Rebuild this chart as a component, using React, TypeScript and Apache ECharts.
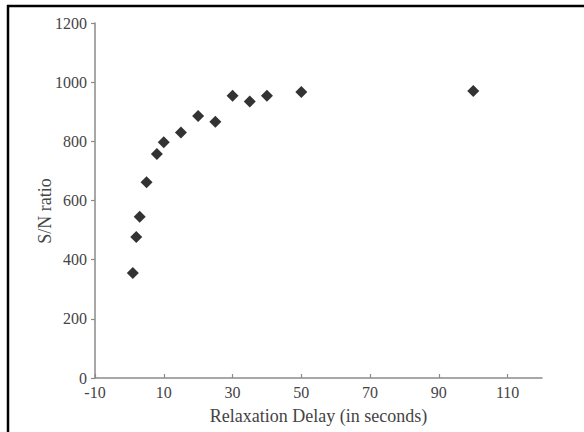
import React, { useEffect, useRef } from "react";
import * as echarts from "echarts";

const delays = [1, 2, 3, 5, 8, 10, 15, 20, 25, 30, 35, 40, 50, 100];
const snRatio = [355, 477, 545, 662, 757, 797, 830, 886, 866, 954, 935, 954, 967, 970];
const xTicks = [-10, 10, 30, 50, 70, 90, 110];
const xTitle = "Relaxation Delay (in seconds)";
const yTitle = "S/N ratio";

const FONT = "'Liberation Serif', 'Times New Roman', serif";

export default function App() {
  const ref = useRef<HTMLDivElement>(null);
  useEffect(() => {
    if (!ref.current) return;
    const chart = echarts.init(ref.current, null, { renderer: "svg" });
    chart.setOption({
      animation: false,
      backgroundColor: "#ffffff",
      grid: { left: 95, right: 42, top: 23, bottom: 54, containLabel: false },
      xAxis: {
        type: "value",
        min: -10,
        max: 120,
        interval: 20,
        name: xTitle,
        nameLocation: "middle",
        nameGap: 29,
        nameTextStyle: { fontFamily: FONT, fontSize: 18, color: "#444" },
        axisLine: { show: true, onZero: false, lineStyle: { color: "#8a8a8a", width: 1.5 } },
        axisTick: { show: true, inside: true, length: 4, customValues: xTicks, lineStyle: { color: "#8a8a8a", width: 1.2 } },
        axisLabel: { customValues: xTicks, fontFamily: FONT, fontSize: 16, color: "#444", margin: 6 },
        splitLine: { show: false },
      },
      yAxis: {
        type: "value",
        min: 0,
        max: 1200,
        interval: 200,
        axisLine: { show: true, onZero: false, lineStyle: { color: "#8a8a8a", width: 1.5 } },
        axisTick: { show: true, inside: false, length: 4, lineStyle: { color: "#8a8a8a", width: 1.2 } },
        axisLabel: {
          fontFamily: FONT,
          fontSize: 16,
          color: "#444",
          margin: 8,
          formatter: (v: number) => String(v),
        },
        splitLine: { show: false },
      },
      series: [
        {
          type: "scatter",
          data: delays.map((d, i) => [d, snRatio[i]]),
          symbol: "diamond",
          symbolSize: [12, 12],
          itemStyle: { color: "#000" },
        },
      ],
      graphic: [
        {
          type: "text",
          x: 45,
          y: 211,
          rotation: Math.PI / 2,
          silent: true,
          style: {
            text: yTitle,
            fontFamily: FONT,
            fontSize: 18,
            fill: "#444",
            align: "center",
            verticalAlign: "middle",
          },
        },
        {
          type: "line",
          silent: true,
          shape: { x1: 8, y1: 5, x2: 8, y2: 440 },
          style: { stroke: "#000", lineWidth: 2.5 },
        },
        {
          type: "line",
          silent: true,
          shape: { x1: 7, y1: 6, x2: 600, y2: 6 },
          style: { stroke: "#000", lineWidth: 2.5 },
        },
      ],
    });
    return () => chart.dispose();
  }, []);
  return (
    <div
      ref={ref}
      style={{ position: "fixed", left: 0, top: 0, width: 584, height: 432, overflow: "hidden" }}
    />
  );
}
